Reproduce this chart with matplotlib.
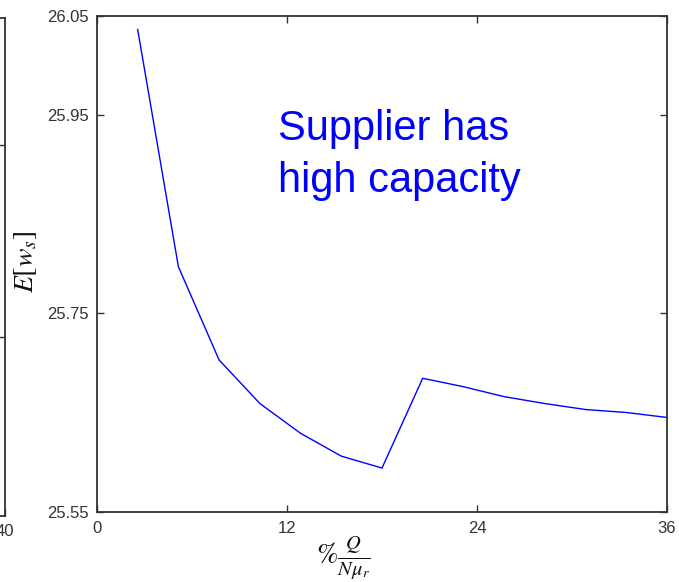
import matplotlib
matplotlib.use("Agg")
import matplotlib.pyplot as plt

# Data
x_vals = [2.57, 5.14, 7.71, 10.29, 12.86, 15.43, 18.0, 20.57, 23.14, 25.71, 28.29, 30.86, 33.43, 36.0]
ews_vals = [26.036, 25.797, 25.703, 25.659, 25.629, 25.606, 25.594, 25.6845,
            25.676, 25.666, 25.659, 25.653, 25.650, 25.645]
x_ticks = [0, 12, 24, 36]
y_ticks = [25.55, 25.75, 25.95, 26.05]
y_tick_labels = ["25.55", "25.75", "25.95", "26.05"]
annotation = "Supplier has\nhigh capacity"

plt.rcParams['mathtext.fontset'] = 'stix'
plt.rcParams['font.family'] = ['Liberation Sans', 'DejaVu Sans']

W, H = 679, 582
fig = plt.figure(figsize=(W / 100, H / 100), dpi=100)

def fx(px):
    return px / W

def fy(py):
    return 1 - py / H

spine_c = '#333333'
lab_c = '#333333'

# partial neighbouring panel on the far left
ax2 = fig.add_axes([fx(-300), fy(516), fx(305), fy(18) - fy(516)])
ax2.set_xlim(0, 40)
ax2.set_ylim(0, 498)
ax2.set_xticks([40])
ax2.set_xticklabels(["40"])
ax2.set_yticks([179, 371])
ax2.set_yticklabels([])
ax2.tick_params(direction='in', length=5, width=1.0, colors=spine_c, labelsize=12,
                labelcolor=lab_c, pad=6, right=True, top=False)
for s in ax2.spines.values():
    s.set_color(spine_c)
    s.set_linewidth(1.3)

# main panel
ax = fig.add_axes([fx(97), fy(511.7), fx(667) - fx(97), fy(15.7) - fy(511.7)])
ax.plot(x_vals, ews_vals, color='#0000FF', lw=1.0)
ax.set_xlim(0, 36)
ax.set_ylim(25.55, 26.05)
ax.set_xticks(x_ticks)
ax.set_xticklabels([str(v) for v in x_ticks])
ax.set_yticks(y_ticks)
ax.set_yticklabels(y_tick_labels)
ax.tick_params(direction='in', length=5, width=1.0, colors=spine_c, labelsize=12,
               labelcolor=lab_c, top=True, right=True)
ax.tick_params(axis='y', pad=6)
ax.tick_params(axis='x', pad=7)
for s in ax.spines.values():
    s.set_color(spine_c)
    s.set_linewidth(1.3)

# axis labels
fig.text(fx(26), fy(262), r'$E\left[w_s\right]$', rotation=90, ha='center', va='center',
         fontsize=20, color='#111111')
fig.text(fx(343), fy(558), r'$\%\frac{Q}{N\mu_r}$', ha='center', va='center',
         fontsize=21, color='#111111')

# annotation
lines = annotation.split("\n")
fig.text(fx(278), fy(140), lines[0], ha='left', va='baseline', fontsize=30, color='#0000FF')
fig.text(fx(278), fy(192), lines[1], ha='left', va='baseline', fontsize=30, color='#0000FF')

# cut-off title fragment at the very top
fig.text(fx(361), 1.0 + 3.0 / H, '(b)', ha='center', va='baseline', fontsize=12, color='#333333')

fig.savefig('out.png', dpi=100)
